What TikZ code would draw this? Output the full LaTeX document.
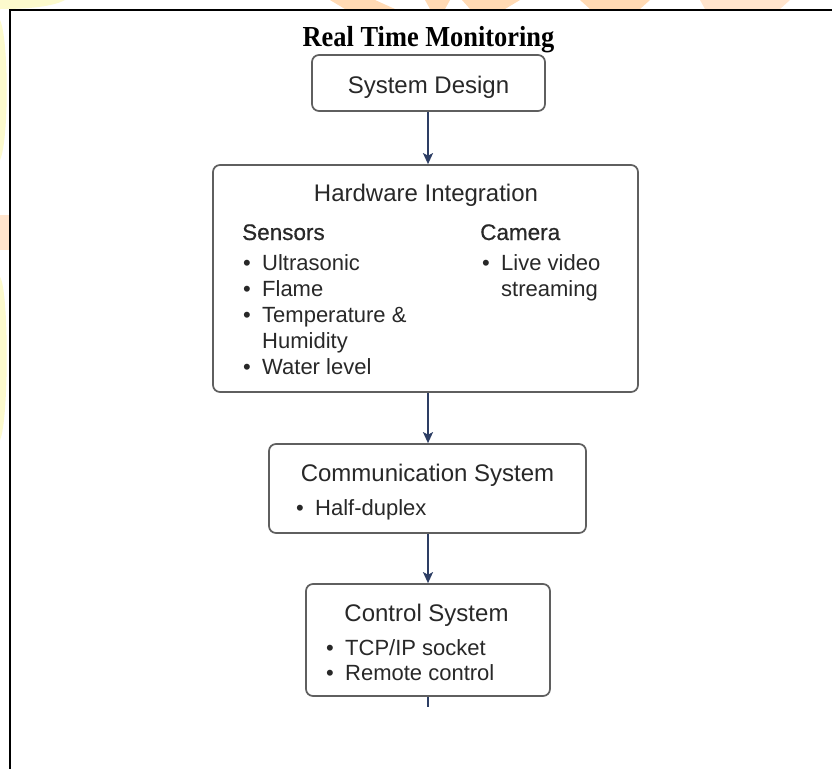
\documentclass[tikz,border=0pt]{standalone}
\usepackage{fontspec}
\setmainfont{Liberation Serif}
\setsansfont{Liberation Sans}
\newfontfamily\semib[FakeBold=0.6]{Liberation Sans}
\usetikzlibrary{arrows.meta}
\definecolor{boxgray}{RGB}{95,95,95}
\definecolor{txt}{RGB}{40,40,40}
\definecolor{navy}{RGB}{45,62,100}
\definecolor{wmyellow}{RGB}{252,250,205}
\definecolor{wmpeach}{RGB}{255,228,205}
\definecolor{wmorange}{RGB}{255,218,180}
\newcommand{\blt}{\makebox[19pt][l]{•}}
\begin{document}
\begin{tikzpicture}[x=1pt, y=-1pt,
  box/.style={draw=boxgray, line width=1.7pt, rounded corners=7pt, fill=white, inner sep=0pt},
  head/.style={text=txt, font=\sffamily\fontsize{24}{28}\selectfont, inner sep=0pt, anchor=base},
  subhd/.style={text=txt, font=\semib\fontsize{22.5}{26}\selectfont, inner sep=0pt, anchor=base west},
  item/.style={text=txt, font=\sffamily\fontsize{22}{26}\selectfont, inner sep=0pt, anchor=base west},
  arr/.style={draw=navy, line width=1.6pt, -{Stealth[length=11pt,width=10pt,inset=2.5pt]}}]
\useasboundingbox (0,0) rectangle (832,769);
\fill[white] (0,0) rectangle (832,769);
% faint watermark remnants outside the frame
\fill[wmyellow] (0,0) -- (65,0) .. controls (50,8) and (20,9) .. (0,9) -- cycle;
\fill[wmyellow] (0,20) .. controls (9,40) and (9,140) .. (0,160) -- cycle;
\fill[wmpeach] (0,215) rectangle (9,250);
\fill[wmyellow] (0,277) .. controls (9,290) and (9,420) .. (0,440) -- cycle;
\fill[wmorange] (330,0) -- (375,0) -- (395,9) -- (345,9) -- cycle;
\fill[wmorange] (425,0) -- (450,0) -- (445,9) -- (430,9) -- cycle;
\fill[wmorange] (462,0) -- (520,0) -- (505,9) -- (470,9) -- cycle;
\fill[wmorange] (580,0) -- (650,0) -- (640,9) -- (590,9) -- cycle;
\fill[wmpeach] (700,0) -- (790,0) -- (780,9) -- (705,9) -- cycle;
% frame
\draw[black, line width=2pt] (832,10) -- (10,10) -- (10,769);
% title
\node[anchor=base, inner sep=0pt, font=\rmfamily\bfseries\fontsize{29}{32}\selectfont] (title) at (428.5,46) {\scalebox{0.91}[1]{Real Time Monitoring}};
% boxes
\node[box, minimum width=233pt, minimum height=56pt] (sd) at (428.5,83) {};
\node[box, minimum width=425pt, minimum height=227pt] (hw) at (425.5,278.5) {};
\node[box, minimum width=317pt, minimum height=89pt] (cm) at (427.5,488.5) {};
\node[box, minimum width=244pt, minimum height=112pt] (ct) at (428,640) {};
% texts
\node[head] (sdt) at (428.5,93) {System Design};
\node[head] (hwt) at (426,201) {Hardware Integration};
\node[subhd] (sens) at (242,240) {Sensors};
\node[subhd] (cam) at (480,240) {Camera};
\node[item] (s1) at (243,270) {\blt Ultrasonic};
\node[item] (s2) at (243,296) {\blt Flame};
\node[item] (s3) at (243,322) {\blt Temperature \&};
\node[item] (s4) at (262,348) {Humidity};
\node[item] (s5) at (243,374) {\blt Water level};
\node[item] (c1) at (482,270) {\blt Live video};
\node[item] (c2) at (501,296) {streaming};
\node[head] (cmt) at (427.5,481) {Communication System};
\node[item] (h1) at (296,515) {\blt Half-duplex};
\node[head] (ctt) at (426.5,621) {Control System};
\node[item] (t1) at (326,655) {\blt TCP/IP socket};
\node[item] (t2) at (326,680) {\blt Remote control};
% connectors
\coordinate (ax) at (428,0);
\coordinate (stubend) at (428,707);
\draw[arr] (sd.south -| ax) -- (hw.north -| ax);
\draw[arr] (hw.south -| ax) -- (cm.north -| ax);
\draw[arr] (cm.south -| ax) -- (ct.north -| ax);
\draw[navy, line width=1.6pt] (ct.south -| ax) -- (stubend);
\end{tikzpicture}
\end{document}
